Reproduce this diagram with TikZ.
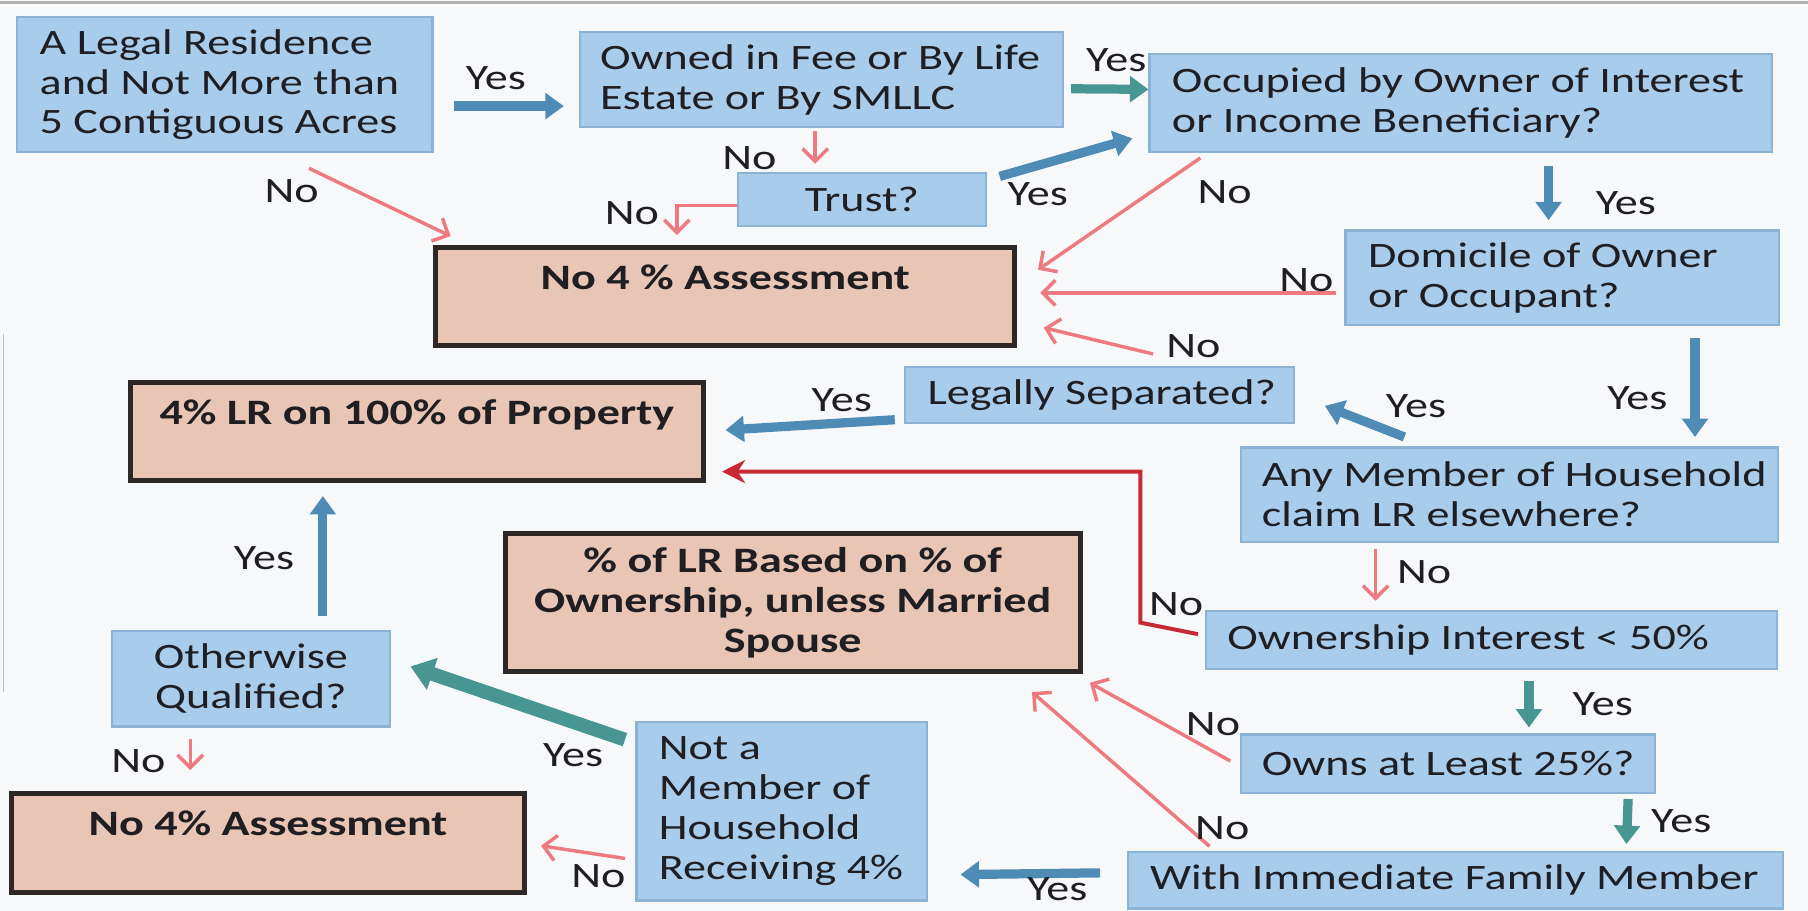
\documentclass[tikz,border=0pt]{standalone}
\usepackage{fontspec}
\setmainfont{Carlito}[FakeStretch=1.29]
\usetikzlibrary{arrows.meta,calc}
\definecolor{qfill}{RGB}{168,204,235}
\definecolor{qdraw}{RGB}{140,178,212}
\definecolor{rfill}{RGB}{233,197,181}
\definecolor{rdraw}{RGB}{45,40,38}
\definecolor{barrowc}{RGB}{78,140,182}
\definecolor{garrowc}{RGB}{72,150,145}
\definecolor{rarrowc}{RGB}{236,122,128}
\definecolor{darkredc}{RGB}{200,40,52}
\definecolor{txtc}{RGB}{30,30,35}
\definecolor{bgc}{RGB}{247,248,250}
\tikzset{
  qbox/.style={draw=qdraw, fill=qfill, line width=1pt, inner sep=0pt, align=center},
  rbox/.style={draw=rdraw, fill=rfill, line width=2.2pt, inner sep=0pt, align=center, font=\fontsize{15.5}{17.3}\selectfont\bfseries},
  btext/.style={anchor=west, inner sep=0pt, align=left},
  lbl/.style={inner sep=0pt},
  barrow/.style={draw=barrowc, line width=4pt, -{Triangle[width=11pt,length=8pt]}},
  garrow/.style={draw=garrowc, line width=4pt, -{Triangle[width=11pt,length=8pt]}},
  rarrow/.style={draw=rarrowc, line width=1.5pt, -{Straight Barb[length=5.5pt,width=11pt]}},
  drarrow/.style={draw=darkredc, line width=1.7pt, -{Stealth[length=10pt,width=10pt]}},
}
% box with centred text
\newcommand\mybox[7]{%
  \pgfmathsetmacro\bw{(#5-#3)*0.5}%
  \pgfmathsetmacro\bh{(#6-#4)*0.5}%
  \node[#1, minimum width=\bw pt, minimum height=\bh pt] (#2) at ({(#3+#5)/2},{(#4+#6)/2}) {#7};}
% box with left-aligned text
\newcommand\lbox[7]{%
  \pgfmathsetmacro\bw{(#4-#2)*0.5}%
  \pgfmathsetmacro\bh{(#5-#3)*0.5}%
  \node[qbox, minimum width=\bw pt, minimum height=\bh pt] (#1) at ({(#2+#4)/2},{(#3+#5)/2}) {};
  \node[btext] (#1t) at ($(#1.west)+(#6,0)$) {#7};}
\begin{document}
\begin{tikzpicture}[x=0.5pt,y=-0.5pt, font=\fontsize{15.5}{17.3}\selectfont, text=txtc]
\fill[bgc] (0,0) rectangle (1568,790);
\useasboundingbox (0,0) rectangle (1568,790);
\draw[gray!60, line width=1.5pt] (0,2) -- (1568,2);
\draw[gray!50, line width=0.8pt] (3,290) -- (3,600);

% boxes
\lbox{A}{15}{15}{375}{132}{20}{A Legal Residence\\and Not More than\\5 Contiguous Acres}
\lbox{B}{503}{28}{922}{110}{18}{Owned in Fee or By Life\\Estate or By SMLLC}
\lbox{C}{997}{47}{1537}{132}{20}{Occupied by Owner of Interest\\or Income Beneficiary?}
\mybox{qbox}{T}{640}{150}{855}{196}{Trust?}
\mybox{rbox}{N1}{378}{215}{880}{300}{No 4 \% Assessment\\~}
\lbox{D}{1167}{200}{1543}{282}{20}{Domicile of Owner\\or Occupant?}
\lbox{L}{785}{318}{1122}{367}{20}{Legally Separated?}
\mybox{rbox}{P}{113}{332}{610}{417}{4\% LR on 100\% of Property\\~}
\lbox{M}{1076}{388}{1542}{470}{19}{Any Member of Household\\claim LR elsewhere?}
\mybox{rbox}{Q}{438}{463}{937}{582}{\% of LR Based on \% of\\Ownership, unless Married\\Spouse}
\lbox{O}{1046}{530}{1541}{580}{19}{Ownership Interest < 50\%}
\mybox{qbox}{W}{97}{547}{338}{630}{Otherwise\\Qualified?}
\lbox{S}{1076}{637}{1435}{688}{19}{Owns at Least 25\%?}
\lbox{H}{552}{626}{804}{781}{20}{Not a\\Member of\\Household\\Receiving 4\%}
\mybox{rbox}{N2}{10}{688}{455}{774}{No 4\% Assessment\\~}
\lbox{F}{978}{739}{1546}{788}{20}{With Immediate Family Member}

% connectors
\draw[barrow] ($(A.east)+(18,18.5)$) -- ($(B.west)+(-13,23)$);
\draw[garrow] ($(B.east)+(6,8)$) -- ($(C.west)+(0,-12)$);
\draw[rarrow] ($(B.south)+(-5.5,3)$) -- ($(T.north)+(-40.5,-7)$);
\draw[rarrow] ($(T.west)+(0,5)$) -| ($(N1.north)+(-42,-9)$);
\draw[barrow] ($(T.east)+(11,-20)$) -- ($(C.west)+(-14,30.5)$);
\draw[rarrow] ($(A.south)+(73,13)$) -- ($(N1.north west)+(15,-8)$);
\draw[rarrow] ($(C.south west)+(45,4)$) -- ($(N1.east)+(18,-23.5)$);
\draw[barrow] ($(C.south)+(76,11)$) -- ($(D.north)+(-12,-8)$);
\draw[rarrow] ($(D.west)+(-7,13)$) -- ($(N1.east)+(20,-3.5)$);
\draw[rarrow] ($(L.north)+(46.5,-10)$) -- ($(N1.south east)+(23,-18)$);
\draw[barrow] ($(D.south)+(115,10)$) -- ($(M.north)+(161,-8)$);
\draw[barrow] ($(M.north)+(-91,-8)$) -- ($(L.east)+(26,9.5)$);
\draw[barrow] ($(L.west)+(-8,21.5)$) -- ($(P.east)+(17,-1.5)$);
\draw[rarrow] ($(M.south)+(-116,5)$) -- ($(O.north)+(-100.5,-8)$);
\draw[drarrow] ($(O.west)+(-6,-5)$) -- ($(O.west)+(-56,-15)$) |- ($(P.east)+(14,34.5)$);
\draw[garrow] ($(O.south)+(32.5,10)$) -- ($(S.north)+(70.5,-5)$);
\draw[rarrow] ($(S.west)+(-8,-2.5)$) -- ($(Q.south east)+(6,8)$);
\draw[garrow] ($(S.south)+(156.5,4)$) -- ($(F.north)+(148.5,-6)$);
\draw[rarrow] ($(F.north west)+(72,-4)$) -- ($(Q.south)+(207.5,16)$);
\draw[barrow] ($(F.west)+(-23,-6.5)$) -- ($(H.east)+(28,55)$);
\draw[garrow, line width=6pt, -{Triangle[width=14pt,length=10pt]}] ($(H.west)+(-9,-62)$) -- ($(W.east)+(17,-10.5)$);
\draw[rarrow] ($(H.west)+(-9,41)$) -- ($(N2.east)+(12,2.5)$);
\draw[barrow] ($(W.north)+(62.5,-12)$) -- ($(P.south)+(-81.5,11)$);
\draw[rarrow] ($(W.south)+(-52.5,10)$) -- ($(N2.north)+(-67.5,-18)$);

% labels
\node[lbl] (l1) at (430,68) {Yes};
\node[lbl] (l2) at (968,52) {Yes};
\node[lbl] (l3) at (650,137) {No};
\node[lbl] (l4) at (548,185) {No};
\node[lbl] (l5) at (900,168) {Yes};
\node[lbl] (l6) at (253,166) {No};
\node[lbl] (l7) at (1062,167) {No};
\node[lbl] (l8) at (1410,176) {Yes};
\node[lbl] (l9) at (1133,243) {No};
\node[lbl] (l10) at (1035,300) {No};
\node[lbl] (l11) at (1420,345) {Yes};
\node[lbl] (l12) at (1228,352) {Yes};
\node[lbl] (l13) at (730,347) {Yes};
\node[lbl] (l14) at (1235,496) {No};
\node[lbl] (l15) at (1020,524) {No};
\node[lbl] (l16) at (1390,611) {Yes};
\node[lbl] (l17) at (1052,628) {No};
\node[lbl] (l18) at (1458,712) {Yes};
\node[lbl] (l19) at (1060,718) {No};
\node[lbl] (l20) at (917,771) {Yes};
\node[lbl] (l21) at (497,655) {Yes};
\node[lbl] (l22) at (519,760) {No};
\node[lbl] (l23) at (229,484) {Yes};
\node[lbl] (l24) at (120,660) {No};
\end{tikzpicture}
\end{document}
